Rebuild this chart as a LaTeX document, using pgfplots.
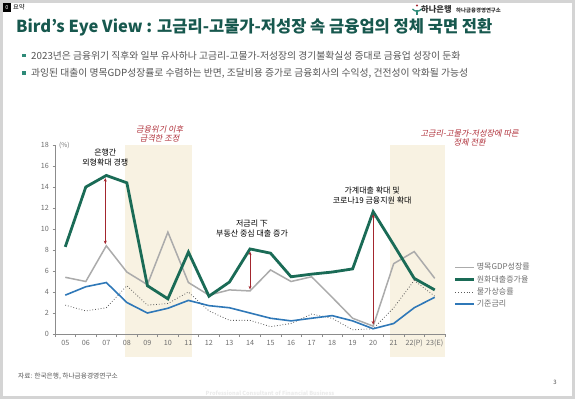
\documentclass[border=0pt]{standalone}
\usepackage{pgfplots}
\pgfplotsset{compat=1.18}
\usetikzlibrary{arrows.meta}
\usepackage{fontspec}
\setmainfont{Noto Sans CJK KR}
\newfontfamily\krslant{Noto Sans CJK KR}[FakeSlant=0.2]
\definecolor{titlecol}{HTML}{17584E}
\definecolor{bulletcol}{HTML}{2E8A78}
\definecolor{textgray}{HTML}{555555}
\definecolor{labelgray}{HTML}{6E6E6E}
\definecolor{axisgray}{HTML}{8C8C8C}
\definecolor{framegray}{HTML}{D4D4D4}
\definecolor{shadecol}{HTML}{F8F2E2}
\definecolor{greenline}{HTML}{1A6B56}
\definecolor{grayline}{HTML}{ABABAB}
\definecolor{blueline}{HTML}{2F78B8}
\definecolor{dotline}{HTML}{5A5A5A}
\definecolor{arrowred}{HTML}{A3262E}
\definecolor{notered}{HTML}{B0303A}
\definecolor{wmgray}{HTML}{EBEBEB}
\begin{document}
\begin{tikzpicture}[x=1pt,y=1pt]
\useasboundingbox (0,0) rectangle (575,399);
\fill[white] (0,0) rectangle (575,399);
\draw[framegray, line width=3pt] (1.5,1.5) rectangle (573.5,397.5);
% header
\fill[black] (3,387) rectangle (11,396);
\node[white, font=\fontsize{5.5}{5.5}\selectfont, inner sep=0pt] at (7,391.5) {0};
\node[anchor=west, font=\fontsize{6.3}{6.3}\selectfont, inner sep=0pt] at (13,391.5) {요약};
% logo
\draw[bulletcol, line width=1.3pt] (412.5,390) .. controls (415,387) and (419,387) .. (421.5,390);
\draw[bulletcol, line width=1.3pt] (417,389) -- (417,384);
\fill[arrowred] (417,393.5) circle (1.1pt);
\node[anchor=west, font=\fontsize{8.3}{8.3}\bfseries, text=black!80, inner sep=0pt] at (421,389.5) {하나은행};
\node[anchor=west, font=\fontsize{5.4}{5.4}\bfseries, text=black!80, inner sep=0pt] at (456,389) {하나금융경영연구소};
% title
\node[anchor=base west, font=\fontsize{16.5}{16.5}\bfseries, text=titlecol, inner sep=0pt] at (16,366) {Bird’s Eye View : 고금리-고물가-저성장 속 금융업의 정체 국면 전환};
% bullets
\fill[bulletcol] (22.3,341.5) rectangle (25.7,345);
\node[anchor=base west, font=\fontsize{9.8}{9.8}\selectfont, text=textgray, inner sep=0pt] at (31,339.5) {2023년은 금융위기 직후와 일부 유사하나 고금리-고물가-저성장의 경기불확실성 증대로 금융업 성장이 둔화};
\fill[bulletcol] (22.3,324) rectangle (25.7,327.5);
\node[anchor=base west, font=\fontsize{9.8}{9.8}\selectfont, text=textgray, inner sep=0pt] at (31,322) {과잉된 대출이 명목GDP성장률로 수렴하는 반면, 조달비용 증가로 금융회사의 수익성, 건전성이 악화될 가능성};
% shades
\fill[shadecol] (125,42) rectangle (191.5,254);
\fill[shadecol] (390,42) rectangle (445,254);
% footer
\node[anchor=base west, font=\fontsize{6.7}{6.7}\selectfont, text=textgray, inner sep=0pt] at (18,21) {자료: 한국은행, 하나금융경영연구소};
\node[anchor=base, font=\fontsize{6}{6}\selectfont, text=textgray, inner sep=0pt] at (555,15) {3};
\node[anchor=base, font=\fontsize{5.6}{5.6}\bfseries, text=wmgray, inner sep=0pt] at (270,4) {Professional Consultant of Financial Business};
\begin{axis}[
  at={(55pt,65pt)}, anchor=south west,
  width=390pt, height=189pt, scale only axis,
  xmin=-0.5, xmax=18.5, ymin=0, ymax=18,
  axis x line*=bottom, axis y line*=left,
  axis line style={draw=axisgray, line width=0.6pt},
  ytick={0,2,...,18},
  xtick={0,...,18},
  xticklabels={05,06,07,08,09,10,11,12,13,14,15,16,17,18,19,20,21,22(P),23(E)},
  minor xtick={-0.5,0.5,...,18.5},
  major x tick style={draw=none},
  tick align=outside,
  major tick length=2.5pt, minor tick length=3pt,
  tick style={draw=axisgray, line width=0.5pt},
  tick label style={font=\fontsize{7.2}{7.2}\selectfont, text=labelgray},
  /pgf/number format/assume math mode=true,
  clip=false,
  legend cell align=left,
  legend style={at={(1.015,0.254)}, anchor=west, draw=none, fill=none,
    font=\fontsize{8}{8}\selectfont, text=labelgray, row sep=2.7pt,
    nodes={inner sep=1pt, text height=6pt, text depth=1.5pt}},
  legend image code/.code={\draw[#1] (0pt,0pt) -- (19pt,0pt);},
]
\addplot[grayline, line width=1.5pt] coordinates {(0,5.4)(1,5.0)(2,8.4)(3,5.9)(4,4.7)(5,9.7)(6,4.9)(7,3.7)(8,4.2)(9,4.1)(10,6.1)(11,5.0)(12,5.45)(13,3.5)(14,1.5)(15,0.75)(16,6.7)(17,7.85)(18,5.3)};
\addlegendentry{명목GDP성장률}
\addplot[greenline, line width=2.8pt, line join=miter] coordinates {(0,8.3)(1,14.0)(2,15.1)(3,14.4)(4,4.6)(5,3.35)(6,7.8)(7,3.6)(8,4.95)(9,8.1)(10,7.7)(11,5.45)(12,5.7)(13,5.9)(14,6.2)(15,11.65)(16,8.5)(17,5.3)(18,4.2)};
\addlegendentry{원화대출증가율}
\addplot[dotline, line width=0.8pt, dotted] coordinates {(0,2.75)(1,2.2)(2,2.5)(3,4.6)(4,2.75)(5,2.9)(6,4.0)(7,2.2)(8,1.3)(9,1.3)(10,0.7)(11,1.0)(12,1.9)(13,1.5)(14,0.4)(15,0.5)(16,2.5)(17,5.1)(18,3.6)};
\addlegendentry{물가상승률}
\addplot[blueline, line width=1.6pt] coordinates {(0,3.7)(1,4.5)(2,4.9)(3,3.0)(4,2.0)(5,2.45)(6,3.2)(7,2.7)(8,2.5)(9,2.0)(10,1.5)(11,1.25)(12,1.5)(13,1.75)(14,1.25)(15,0.5)(16,1.0)(17,2.5)(18,3.5)};
\addlegendentry{기준금리}
% arrows
\draw[arrowred, line width=0.8pt, {Stealth[length=3.5pt,width=3pt]}-{Stealth[length=3.5pt,width=3pt]}] (axis cs:1.95,8.55) -- (axis cs:1.95,14.85);
\draw[arrowred, line width=0.8pt, {Stealth[length=3.5pt,width=3pt]}-{Stealth[length=3.5pt,width=3pt]}] (axis cs:9,4.25) -- (axis cs:9,7.85);
\draw[arrowred, line width=0.8pt, {Stealth[length=3.5pt,width=3pt]}-{Stealth[length=3.5pt,width=3pt]}] (axis cs:15,0.9) -- (axis cs:15,11.4);
% notes
\node[font=\fontsize{8}{8}\selectfont, align=center, inner sep=0pt] at (axis cs:1.95,16.8) {은행간\\[1.5pt]외형확대 경쟁};
\node[font=\fontsize{8}{8}\selectfont, align=center, inner sep=0pt] at (axis cs:9.1,10.0) {저금리 下\\[2pt]부동산 중심 대출 증가};
\node[font=\fontsize{8}{8}\selectfont, align=center, inner sep=0pt] at (axis cs:14.95,13.2) {가계대출 확대 및\\[2pt]코로나19 금융지원 확대};
\node[font=\fontsize{8.2}{8.2}\krslant, text=notered, align=center, inner sep=0pt] at (axis cs:4.6,19.05) {금융위기 이후\\[1pt]급격한 조정};
\node[font=\fontsize{8.2}{8.2}\krslant, text=notered, align=center, inner sep=0pt] at (axis cs:19.7,18.7) {고금리-고물가-저성장에 따른\\[1pt]정체 전환};
\node[anchor=west, font=\fontsize{6.5}{6.5}\selectfont, text=labelgray, inner sep=0pt] at (rel axis cs:0,1) [xshift=4pt] {(\%)};
\end{axis}
\end{tikzpicture}
\end{document}
